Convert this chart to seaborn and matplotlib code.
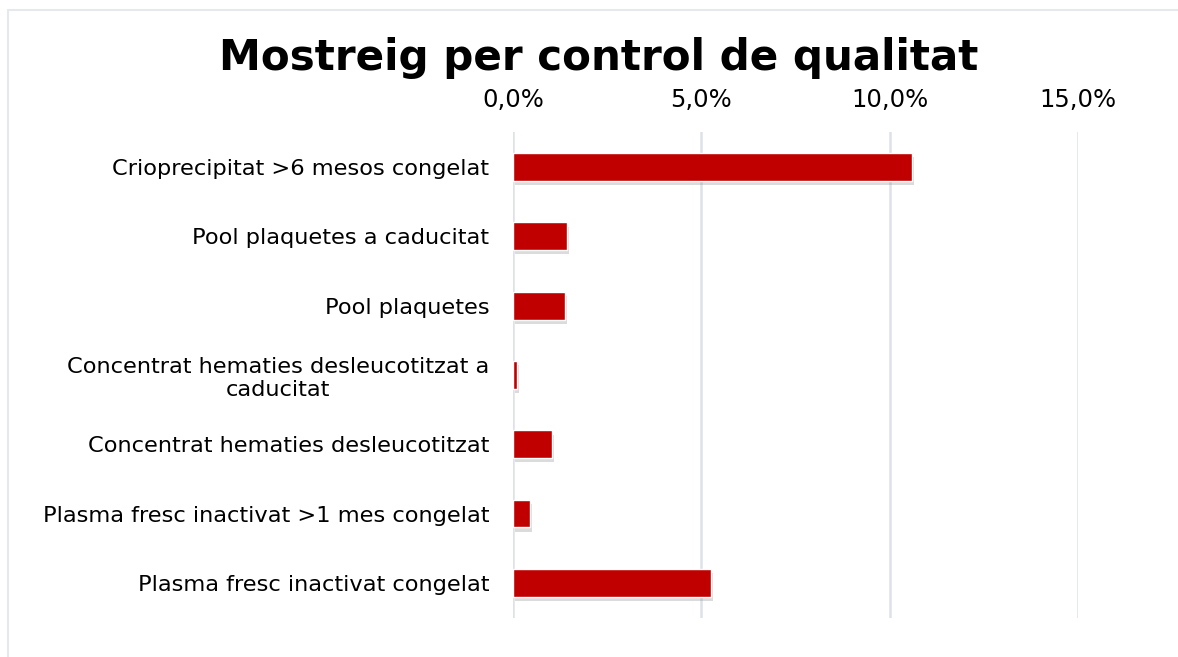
import pandas as pd
import seaborn as sns
import matplotlib.pyplot as plt
import matplotlib.patheffects as pe
from matplotlib.patches import Rectangle
from matplotlib.ticker import FuncFormatter

categories = [
    "Crioprecipitat >6 mesos congelat",
    "Pool plaquetes a caducitat",
    "Pool plaquetes",
    "Concentrat hematies desleucotitzat a\ncaducitat",
    "Concentrat hematies desleucotitzat",
    "Plasma fresc inactivat >1 mes congelat",
    "Plasma fresc inactivat congelat",
]
values = [10.58, 1.42, 1.38, 0.11, 1.03, 0.45, 5.26]

df = pd.DataFrame({"categoria": categories, "percentatge": values})

sns.set_style("white")
plt.rcParams["font.family"] = ["DejaVu Sans"]

fig = plt.figure(figsize=(11.78, 6.57), dpi=100)
ax = fig.add_axes([0.4355, 0.0600, 0.4796, 0.7385])

sns.barplot(data=df, x="percentatge", y="categoria", orient="h",
            color="#C00000", width=0.4, saturation=1, ax=ax, zorder=3)

# ombra suau sota les barres
for p in ax.patches:
    p.set_path_effects([pe.SimplePatchShadow(offset=(1.5, -3), shadow_rgbFace="#888888", alpha=0.3),
                        pe.Normal()])

ax.set_xlim(0, 15)
ax.set_ylim(6.5, -0.5)
ax.set_xticks([0, 5, 10, 15])
ax.xaxis.set_major_formatter(FuncFormatter(lambda v, _: f"{v:.1f}%".replace(".", ",")))
ax.xaxis.tick_top()
ax.tick_params(axis="x", length=0, pad=15, labelsize=17.5, colors="#000000")
ax.tick_params(axis="y", length=0, pad=17, labelsize=16.2, colors="#000000")
for lbl in ax.get_yticklabels():
    lbl.set_multialignment("center")
ax.grid(axis="x", color="#DDE1E8", linewidth=1.8, zorder=0)
ax.set_xlabel("")
ax.set_ylabel("")
sns.despine(ax=ax, left=True, bottom=True, top=True, right=True)

fig.text(0.508, 0.912, "Mostreig per control de qualitat", ha="center", va="center",
         fontsize=30.3, fontweight="bold", color="#000000")

# marc del gràfic
fig.patches.append(Rectangle((8 / 1178, -0.05), 1.2, 1 - 10 / 657 + 0.05,
                             transform=fig.transFigure, fill=False,
                             edgecolor="#E6E8EC", linewidth=1.5))

fig.savefig("out.png", dpi=100)
